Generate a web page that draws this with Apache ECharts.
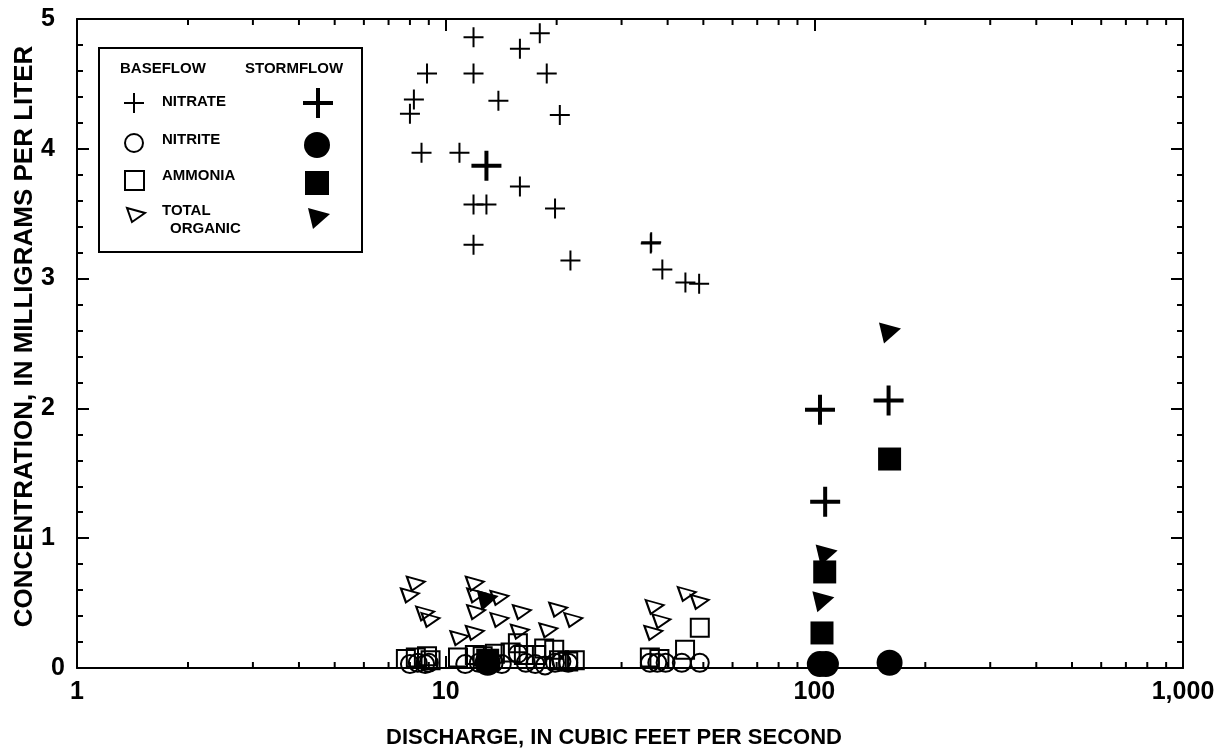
<!DOCTYPE html>
<html>
<head>
<meta charset="utf-8">
<script src="https://cdn.jsdelivr.net/npm/echarts@6/dist/echarts.min.js"></script>
<style>
  html, body { margin: 0; padding: 0; background: #fff; }
  #chart { width: 1227px; height: 753px; }
</style>
</head>
<body>
<div id="chart"></div>
<script>
// Discharge (ft3/s) vs. concentration (mg/L), baseflow and stormflow samples
const xTickLabels = { 1: '1', 10: '10', 100: '100', 1000: '1,000' };
const yTicks = [0, 1, 2, 3, 4, 5];
const xMinorTicks = [2, 3, 4, 5, 6, 7, 8, 9, 20, 30, 40, 50, 60, 70, 80, 90, 200, 300, 400, 500, 600, 700, 800, 900];

// Baseflow samples [discharge, concentration]
const baseNitrate = [
  [11.9, 4.86], [15.9, 4.77], [18.0, 4.89], [8.9, 4.58], [11.9, 4.58], [18.8, 4.58],
  [8.2, 4.38], [8.0, 4.27], [13.9, 4.37], [20.4, 4.26], [8.6, 3.97], [10.9, 3.97],
  [15.9, 3.71], [11.9, 3.57], [12.9, 3.57], [19.8, 3.54], [11.9, 3.26], [21.8, 3.14],
  [36.0, 3.27], [36.1, 3.28], [38.7, 3.07], [44.7, 2.97], [48.7, 2.96]
];
const baseNitrite = [
  [8.0, 0.03], [8.4, 0.04], [8.8, 0.03], [9.0, 0.04],
  [11.3, 0.03], [12.3, 0.04], [13.5, 0.04], [14.2, 0.03], [15.7, 0.11], [16.5, 0.04],
  [17.5, 0.03], [18.6, 0.02], [19.8, 0.04], [20.6, 0.05], [21.5, 0.04],
  [35.8, 0.04], [37.5, 0.04], [39.5, 0.04], [43.7, 0.04], [48.9, 0.04]
];
const baseAmmonia = [
  [7.8, 0.07], [8.3, 0.08], [8.9, 0.09], [9.1, 0.06],
  [10.8, 0.08], [12.0, 0.10], [12.6, 0.09], [13.6, 0.11], [15.0, 0.12], [15.7, 0.19],
  [16.3, 0.10], [17.6, 0.10], [18.5, 0.15], [19.7, 0.14], [20.3, 0.06], [21.5, 0.05], [22.4, 0.06],
  [35.8, 0.08], [38.0, 0.07], [44.6, 0.14], [48.9, 0.31]
];
const baseOrganic = [
  [8.3, 0.65], [8.0, 0.56], [8.8, 0.42], [9.1, 0.37],
  [12.0, 0.65], [12.1, 0.56], [12.1, 0.43], [12.0, 0.27], [10.9, 0.23],
  [14.0, 0.54], [14.0, 0.37], [16.1, 0.43], [20.2, 0.45], [22.2, 0.37],
  [15.9, 0.28], [19.0, 0.29],
  [36.9, 0.47], [38.5, 0.36], [36.6, 0.27], [45.1, 0.57], [48.9, 0.51]
];

// Stormflow samples [discharge, concentration]
const stormNitrate = [[12.9, 3.87], [103.6, 1.99], [107.0, 1.28], [159.0, 2.06]];
const stormNitrite = [[13.0, 0.04], [103.5, 0.03], [107.5, 0.03], [160.0, 0.04]];
const stormAmmonia = [[13.0, 0.06], [104.9, 0.27], [106.7, 0.74], [160.0, 1.61]];
const stormOrganic = [[13.0, 0.52], [105.8, 0.51], [108.0, 0.87], [160.4, 2.58]];

// Marker shapes
const thinPlus = 'path://M9,0H11V9H20V11H11V20H9V11H0V9H9Z';
const boldPlus = 'path://M13,0H17V13H30V17H17V30H13V17H0V13H13Z';
const openTri = 'path://M0,0L18,5L5,14Z';
const solidTri = 'path://M0,0L22,6L5,21Z';

const openStyle = { color: 'rgba(0,0,0,0)', borderColor: '#000', borderWidth: 2, opacity: 1 };
const solidStyle = { color: '#000', opacity: 1 };

const FONT = '"Liberation Sans", Arial, sans-serif';

const chart = echarts.init(document.getElementById('chart'), null, { renderer: 'canvas' });

const axisLine = { show: true, onZero: false, lineStyle: { color: '#000', width: 2 } };
const majorTick = { show: true, inside: true, length: 12, lineStyle: { color: '#000', width: 2 } };
const minorTick = { show: true, splitNumber: 5, length: 6, lineStyle: { color: '#000', width: 2 } };

// Legend panel inside the plot
const L = { x: 99, y: 48, w: 263, h: 204 };
const legendText = (text, x, y) => ({
  type: 'text', x: x, y: y,
  style: { text: text, fill: '#000', font: 'bold 15px ' + FONT, textVerticalAlign: 'middle' }
});
const legendGraphics = [
  { type: 'rect', shape: { x: L.x, y: L.y, width: L.w, height: L.h },
    style: { fill: '#fff', stroke: '#000', lineWidth: 2 }, z: 10 },
  legendText('BASEFLOW', 120, 69), legendText('STORMFLOW', 245, 69),
  legendText('NITRATE', 162, 102), legendText('NITRITE', 162, 140),
  legendText('AMMONIA', 162, 176), legendText('TOTAL', 162, 211), legendText('ORGANIC', 170, 229),
  // baseflow symbols
  { type: 'polygon', shape: { points: [[133, 93], [135, 93], [135, 102], [144, 102], [144, 104], [135, 104], [135, 113], [133, 113], [133, 104], [124, 104], [124, 102], [133, 102]] }, style: { fill: '#000' } },
  { type: 'circle', shape: { cx: 134, cy: 143, r: 9 }, style: { fill: 'none', stroke: '#000', lineWidth: 2 } },
  { type: 'rect', shape: { x: 125, y: 171, width: 19, height: 19 }, style: { fill: 'none', stroke: '#000', lineWidth: 2 } },
  { type: 'polygon', shape: { points: [[127, 208], [145, 213], [132, 222]] }, style: { fill: 'none', stroke: '#000', lineWidth: 2 } },
  // stormflow symbols
  { type: 'polygon', shape: { points: [[316, 88], [320, 88], [320, 101], [333, 101], [333, 105], [320, 105], [320, 118], [316, 118], [316, 105], [303, 105], [303, 101], [316, 101]] }, style: { fill: '#000' } },
  { type: 'circle', shape: { cx: 317, cy: 145, r: 13 }, style: { fill: '#000' } },
  { type: 'rect', shape: { x: 305, y: 171, width: 24, height: 24 }, style: { fill: '#000' } },
  { type: 'polygon', shape: { points: [[308, 208], [330, 214], [313, 229]] }, style: { fill: '#000' } }
];
legendGraphics.forEach((g, i) => { if (i > 0) g.z = 11; });

function scatter(name, data, symbol, size, style, z) {
  return {
    name: name, type: 'scatter', data: data, symbol: symbol, symbolSize: size,
    itemStyle: style, z: z, silent: true, clip: false
  };
}

const option = {
  backgroundColor: '#fff',
  animation: false,
  textStyle: { fontFamily: FONT },
  grid: { left: 77, right: 44, top: 19, bottom: 85, containLabel: false, outerBoundsMode: 'none' },
  xAxis: [
    {
      type: 'log', logBase: 10, min: 1, max: 1000, position: 'bottom',
      name: 'DISCHARGE, IN CUBIC FEET PER SECOND', nameLocation: 'middle', nameGap: 59,
      nameTextStyle: { color: '#000', fontSize: 22, fontWeight: 'bold', fontFamily: FONT, padding: [0, 32, 0, 0] },
      axisLine: axisLine,
      axisTick: majorTick,
      axisLabel: { color: '#000', fontSize: 25, fontWeight: 'bold', fontFamily: FONT, margin: 12,
        formatter: v => xTickLabels[Math.round(v)] || '' },
      splitLine: { show: false }
    },
    {
      type: 'log', logBase: 10, min: 1, max: 1000, position: 'top',
      axisLine: axisLine, axisTick: majorTick,
      axisLabel: { show: false }, splitLine: { show: false }
    }
  ],
  yAxis: [
    {
      type: 'value', min: 0, max: 5, interval: 1, position: 'left',
      name: 'CONCENTRATION, IN MILLIGRAMS PER LITER', nameLocation: 'middle', nameGap: 39,
      nameMoveOverlap: false,
      nameTextStyle: { color: '#000', fontSize: 26, fontWeight: 'bold', fontFamily: FONT, padding: [0, 0, 0, 14] },
      axisLine: axisLine, axisTick: majorTick, minorTick: minorTick,
      axisLabel: {
        color: '#000', fontSize: 25, fontWeight: 'bold', fontFamily: FONT, margin: 12,
        formatter: v => (v === yTicks[0] ? '{z|' + v + '}' : '{n|' + v + '}'),
        rich: {
          z: { fontSize: 25, fontWeight: 'bold', fontFamily: FONT, color: '#000' },
          n: { fontSize: 25, fontWeight: 'bold', fontFamily: FONT, color: '#000', padding: [0, 10, 0, 0] }
        }
      },
      splitLine: { show: false }
    },
    {
      type: 'value', min: 0, max: 5, interval: 1, position: 'right',
      axisLine: axisLine, axisTick: majorTick, minorTick: minorTick,
      axisLabel: { show: false }, splitLine: { show: false }
    }
  ],
  graphic: legendGraphics,
  series: [
    // minor ticks of the logarithmic axes, bottom and top
    {
      type: 'custom', silent: true, clip: false, z: 1,
      data: xMinorTicks.map(v => [v, 0]),
      renderItem: function (params, api) {
        const v = api.value(0);
        const b = api.coord([v, 0]);
        const t = api.coord([v, 5]);
        const st = { stroke: '#000', lineWidth: 2 };
        return {
          type: 'group', children: [
            { type: 'line', shape: { x1: b[0], y1: b[1], x2: b[0], y2: b[1] - 6 }, style: st },
            { type: 'line', shape: { x1: t[0], y1: t[1], x2: t[0], y2: t[1] + 6 }, style: st }
          ]
        };
      }
    },
    scatter('Baseflow nitrite', baseNitrite, 'circle', 18, openStyle, 2),
    scatter('Baseflow ammonia', baseAmmonia, 'rect', 18, openStyle, 2),
    scatter('Baseflow total organic', baseOrganic, openTri, [18, 14], openStyle, 2),
    scatter('Baseflow nitrate', baseNitrate, thinPlus, 20, solidStyle, 3),
    scatter('Stormflow nitrite', stormNitrite, 'circle', 26, solidStyle, 4),
    scatter('Stormflow ammonia', stormAmmonia, 'rect', 23, solidStyle, 4),
    scatter('Stormflow total organic', stormOrganic, solidTri, [22, 21], solidStyle, 4),
    scatter('Stormflow nitrate', stormNitrate, boldPlus, 30, solidStyle, 5)
  ]
};

chart.setOption(option);
</script>
</body>
</html>
